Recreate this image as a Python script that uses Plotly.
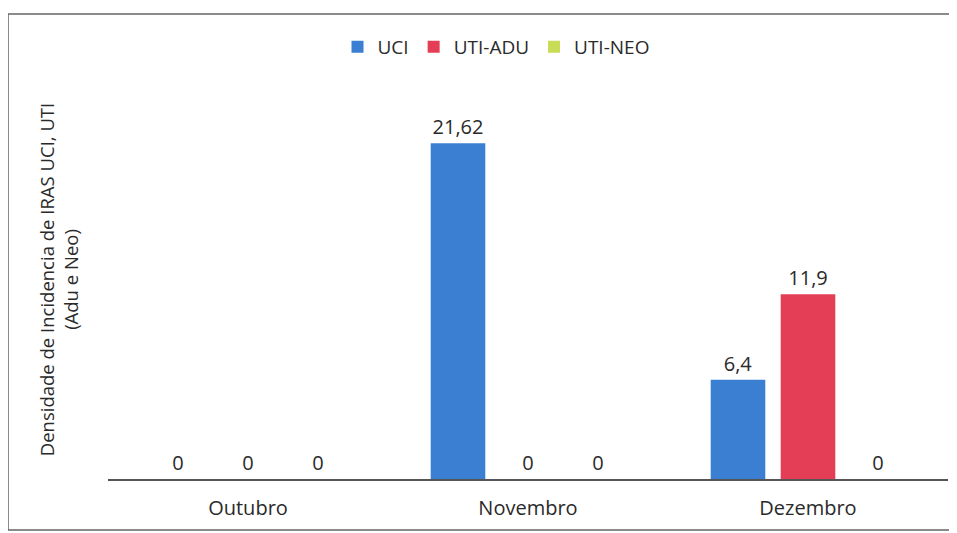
import plotly.graph_objects as go

# monthly data, one list per series
months = ["Outubro", "Novembro", "Dezembro"]
uci = [0, 21.62, 6.4]
uti_adu = [0, 0, 11.9]
uti_neo = [0, 0, 0]

series = [
    ("UCI", uci, "#3b7fd2"),
    ("UTI-ADU", uti_adu, "#e43e57"),
    ("UTI-NEO", uti_neo, "#c9dc58"),
]


def fmt(v):
    # Portuguese decimal comma
    return ("%g" % v).replace(".", ",")


fig = go.Figure()
for name, vals, color in series:
    fig.add_trace(go.Bar(
        x=months, y=vals, name=name,
        marker=dict(color=color, line=dict(width=0)),
        text=[fmt(v) for v in vals],
        textposition="outside",
        textfont=dict(size=20, color="#2a2a2a"),
        cliponaxis=False,
    ))

# page body adds an 8px offset, so margins are set 8px smaller on the top/left
W, H = 957, 533
ml, mr, mt, mb = 100, 17, 72, 62
pw, ph = W - ml - mr, H - mt - mb

fig.update_layout(
    width=W, height=H,
    margin=dict(l=ml, r=mr, t=mt, b=mb, autoexpand=False),
    paper_bgcolor="white", plot_bgcolor="white",
    font=dict(family="Open Sans, sans-serif", size=18, color="#2a2a2a"),
    barmode="group", bargap=0.25, bargroupgap=0.22,
    showlegend=True,
    legend=dict(orientation="h", x=(488 - ml) / pw, xanchor="center",
                y=1 - 39 / H, yref="container", yanchor="middle",
                font=dict(size=19), traceorder="normal"),
    xaxis=dict(showline=True, linecolor="#555555", linewidth=1.5,
               ticks="", tickfont=dict(size=20), ticklabelstandoff=10,
               automargin=False),
    yaxis=dict(range=[0, 25.7], showgrid=False, showticklabels=False,
               zeroline=False, showline=False, automargin=False,
               title=dict(text="Densidade de Incidencia de IRAS UCI, UTI<br>(Adu e Neo)",
                          font=dict(size=18.5), standoff=23)),
    shapes=[dict(type="rect", xref="paper", yref="paper",
                 x0=(0 - ml) / pw, x1=(942 - ml) / pw,
                 y0=(H - mb - 522) / ph, y1=(H - mb - 6) / ph,
                 line=dict(color="#666666", width=1.5), layer="below")],
)

fig.write_html("out.html")
